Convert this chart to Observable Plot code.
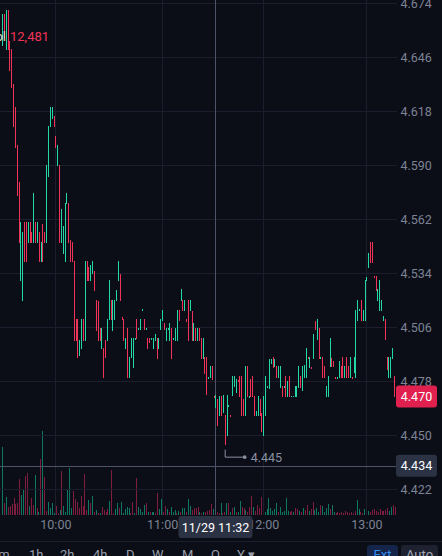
<!DOCTYPE html>
<html><head><meta charset="utf-8">
<script src="https://cdn.jsdelivr.net/npm/d3@7"></script>
<script src="https://cdn.jsdelivr.net/npm/@observablehq/plot@0.6"></script>
<style>
html,body{margin:0;padding:0;background:#0b0e17;}
#wrap{position:relative;width:442px;height:556px;overflow:hidden;background:#0b0e17;font-family:Roboto,"Noto Sans",sans-serif;}
#vol,#price{position:absolute;left:0;top:0;}
.tb{position:absolute;top:547px;font-size:13px;line-height:16px;color:#9a9eab;white-space:nowrap;}
.btn{position:absolute;top:545px;height:20px;border-radius:3px;font-size:13px;line-height:20px;text-align:center;}
#sep{position:absolute;left:0;top:541px;width:442px;height:1px;background:#1b1f2d;}
</style></head><body>
<div id="wrap"><div id="vol"></div><div id="price"></div><div id="sep"></div><div id="toolbar"></div></div>
<script>
// ---- candle data (open / close per minute bar) ----
const opens = [4.652,4.668,4.650,4.670,4.654,4.650,4.632,4.620,4.600,4.581,
4.530,4.520,4.560,4.560,4.550,4.560,4.555,4.550,4.560,4.550,
4.555,4.540,4.559,4.555,4.550,4.584,4.610,4.614,4.615,4.605,
4.590,4.590,4.550,4.544,4.540,4.570,4.570,4.551,4.550,4.540,
4.510,4.510,4.491,4.495,4.510,4.499,4.540,4.537,4.530,4.534,
4.535,4.520,4.519,4.505,4.495,4.495,4.499,4.499,4.510,4.520,
4.504,4.510,4.520,4.530,4.533,4.511,4.510,4.495,4.505,4.480,
4.490,4.485,4.4995,4.510,4.5045,4.5045,4.5145,4.510,4.5045,4.500,
4.500,4.4995,4.4946,4.499,4.500,4.4946,4.5045,4.5096,4.5076,4.499,
4.5045,4.499,4.505,4.4995,4.499,4.499,4.5148,4.5195,4.520,4.5148,
4.510,4.520,4.5143,4.5138,4.499,4.505,4.499,4.505,4.4998,4.4895,
4.490,4.490,4.4794,4.4796,4.4853,4.4700,4.4645,4.4682,4.4599,4.4698,
4.4615,4.4599,4.4495,4.4649,4.4601,4.4703,4.4749,4.4718,4.4782,4.4801,
4.4801,4.4682,4.4599,4.4853,4.4696,4.4788,4.4801,4.4698,4.4599,4.4599,
4.4682,4.4609,4.4495,4.4599,4.4747,4.4743,4.4873,4.4900,4.4853,4.4853,
4.4796,4.4745,4.4749,4.4747,4.4801,4.4698,4.4801,4.4698,4.4698,4.4698,
4.4698,4.4745,4.4801,4.4733,4.4796,4.4796,4.4900,4.4848,4.4850,4.4895,
4.5091,4.4993,4.505,4.4895,4.4900,4.4853,4.4698,4.4698,4.4853,4.4895,
4.4879,4.4798,4.4794,4.4796,4.4853,4.4900,4.4796,4.4900,4.4853,4.4796,
4.4798,4.4822,4.4796,4.5096,4.5146,4.5200,4.5096,4.5096,4.5299,4.5371,
4.5500,4.5500,4.5322,4.5320,4.5195,4.5148,4.5143,4.5096,4.5101,4.4900,
4.4796,4.4796,4.4895,4.4801];
const closes = [4.668,4.656,4.670,4.650,4.639,4.630,4.610,4.599,4.574,4.550,
4.560,4.555,4.540,4.540,4.560,4.550,4.550,4.575,4.550,4.560,
4.540,4.550,4.540,4.550,4.590,4.610,4.620,4.620,4.610,4.599,
4.600,4.550,4.567,4.558,4.570,4.575,4.550,4.540,4.540,4.499,
4.499,4.490,4.499,4.510,4.499,4.540,4.530,4.530,4.538,4.540,
4.525,4.504,4.499,4.499,4.505,4.480,4.490,4.510,4.530,4.510,
4.520,4.520,4.525,4.540,4.520,4.510,4.499,4.500,4.480,4.490,
4.500,4.500,4.500,4.500,4.505,4.510,4.515,4.5045,4.505,4.4946,
4.498,4.500,4.500,4.502,4.4895,4.500,4.510,4.5148,4.5045,4.505,
4.505,4.5076,4.4895,4.500,4.505,4.5148,4.5096,4.5252,4.5148,4.520,
4.5086,4.499,4.520,4.499,4.5076,4.499,4.505,4.499,4.4895,4.4998,
4.4817,4.4708,4.4798,4.4853,4.4786,4.4696,4.4703,4.4547,4.4698,4.4599,
4.4703,4.445,4.4703,4.4653,4.4597,4.4801,4.4801,4.4790,4.4778,4.4698,
4.4599,4.4599,4.4853,4.4698,4.4700,4.4698,4.4698,4.4599,4.4622,4.4698,
4.4599,4.4516,4.4698,4.4801,4.4751,4.4889,4.4889,4.4848,4.4890,4.4796,
4.4853,4.4853,4.4698,4.4751,4.4698,4.4780,4.4698,4.4702,4.4702,4.4749,
4.4749,4.4853,4.4745,4.4853,4.4858,4.4951,4.4896,4.4900,4.4846,4.5019,
4.5045,4.5101,4.4895,4.4900,4.4796,4.4796,4.4749,4.4801,4.4998,4.4853,
4.4853,4.4794,4.4798,4.4879,4.4796,4.4796,4.4853,4.4796,4.4796,4.4900,
4.4794,4.4900,4.5148,4.5200,4.5150,4.5096,4.5148,4.5299,4.5315,4.5443,
4.5397,4.5397,4.5318,4.5247,4.5252,4.5299,4.5200,4.5112,4.4993,4.4838,
4.4900,4.4900,4.4951,4.4700];

// ---- volume bars (thousands) and their direction ----
const volumes = [102,18,27,12,14,17,26,17,18,54, 30,38,59,63,14,26,15,60,11,5,
84,126,57,6,20,11,18,3,14,3, 8,66,14,5,38,71,11,36,24,20,
11,29,14,62,8,23,18,29,5,8, 3,3,12,8,5,9,21,68,3,9,
18,11,20,3,9,12,11,3,20,3, 56,12,9,5,15,18,5,5,5,5,
3,33,9,24,5,14,9,5,12,5, 8,3,6,5,11,11,5,24,14,8,
11,11,12,5,3,5,5,6,8,17, 9,15,5,3,18,3,5,18,
18,5,11,12,5,5,21,12,11,8, 5,12,29,12,6,15,11,27,6,5,
9,26,11,6,9,18,5,12,5,6, 26,6,5,6,5,11,9,6,5,11,
8,15,6,9,20,8,11,5,15,14, 5,11,17,9,15,5,3,5,3,5,
3,6,5,3,5,3,6,23,9,5, 3,9,18,6,5,8,9,6,5,9,
6,6,8,11,6,12,15,12.481];
const volumeDir = ["u","d","u","d","d","d","d","d","d","d", "u","u","d","d","u","d","d","u","d","u",
"d","u","d","d","u","u","u","u","d","d", "u","d","u","u","u","u","u","d","d","d",
"d","d","d","d","d","u","d","u","d","u", "d","u","d","d","d","d","u","d","d","u",
"u","d","u","u","u","u","u","d","d","u", "d","u","u","u","u","d","u","d","u","u",
"d","d","u","u","d","d","u","d","u","u", "u","d","u","d","u","u","d","u","u","d",
"d","d","d","u","d","u","d","d","d","d", "u","u","d","d","u","d","d","u",
"d","u","d","u","d","u","u","d","d","u", "d","d","d","u","d","d","d","d","d","u",
"u","u","u","u","u","u","d","u","u","u", "u","u","d","d","u","d","d","u","d","u",
"d","d","u","d","d","u","u","u","d","u", "u","u","u","d","u","u","d","d","d","d",
"d","d","d","d","d","d","d","u","u","d", "d","u","u","u","d","d","d","d","d","d",
"d","d","d","d","u","u","d"];

// ---- axis ticks / labels ----
const priceTicks = [4.422,4.450,4.478,4.506,4.534,4.562,4.590,4.618,4.646,4.674];
const hourTicks = [29,87,142,198];
const hourLabels = ["10:00","11:00","12:00","13:00"];
const crossIndex = 116;
const crossLabel = "11/29 11:32";
const crossPrice = 4.434;
const toolbarItems = [["1m",-9],["1h",29],["2h",60],["4h",93],["D",126],["W",152],["M",182],["Q",211],["Y",237],["▾",248]];

const UP="#24d8a6", DOWN="#f23358", VUP="#0f7661", VDOWN="#7e1d3d";
const GRID="#1b1f2d", CROSS="#4d5368", AXIS="#7d8394", SLATE="#2b3244", BADGE_RED="#e0214f";
const W=442, H=541;

const candles = opens.map((o,i)=>({i, open:o, close:closes[i], up: closes[i] >= o}));
const n = candles.length;
while (volumeDir.length < volumes.length) volumeDir.push("d");
const vols = volumes.map((v,i)=>({i, v, up: volumeDir[i]==="u"}));
const last = candles[n-1];
const lowBar = d3.least(candles, d=>Math.min(d.open,d.close));
const lowIdx = lowBar.i, lowVal = Math.min(lowBar.open, lowBar.close);
const f3 = d3.format(".3f");

function badge(value, label, fill, color) {
  return (index, scales, values, dims) => {
    const y = scales.y(value);
    const g = d3.create("svg:g");
    g.append("rect").attr("x", 396).attr("y", y-11).attr("width", 41).attr("height", 22).attr("rx", 3).attr("fill", fill);
    g.append("text").attr("x", 416.5).attr("y", y).attr("dy","0.36em").attr("text-anchor","middle")
      .attr("fill", color).attr("font-size", 12.5).text(label);
    return g.node();
  };
}

const vol = Plot.plot({
  width: W, height: H, marginTop: 0, marginLeft: 0, marginRight: 45, marginBottom: 26,
  style: {background: "transparent"},
  x: {type: "linear", domain: [0, vols.length-1], range: [2, 395], axis: null},
  y: {domain: [0, 150], range: [515, 415], axis: null},
  color: {type: "identity"},
  marks: [
    Plot.ruleX(vols, {x: "i", y1: 0, y2: "v", stroke: d => d.up ? VUP : VDOWN, strokeWidth: 1, shapeRendering: "crispEdges"})
  ]
});
document.getElementById("vol").append(vol);

const price = Plot.plot({
  width: W, height: H, marginTop: 0, marginLeft: 0, marginRight: 45, marginBottom: 26,
  style: {background: "transparent", fontFamily: "Roboto, 'Noto Sans', sans-serif", fontSize: "12.5px", overflow: "visible"},
  x: {type: "linear", domain: [0, n-1], range: [2, 394], axis: null},
  y: {domain: [4.422, 4.674], range: [489, 3], axis: null},
  color: {type: "identity"},
  marks: [
    Plot.ruleY(priceTicks, {stroke: GRID, strokeWidth: 1, shapeRendering: "crispEdges"}),
    Plot.ruleX(hourTicks, {stroke: GRID, strokeWidth: 1, shapeRendering: "crispEdges"}),
    Plot.ruleX([crossIndex], {stroke: CROSS, strokeWidth: 1, shapeRendering: "crispEdges"}),
    Plot.ruleY([crossPrice], {stroke: CROSS, strokeWidth: 1, shapeRendering: "crispEdges"}),
    Plot.ruleX(candles, {x: "i", y1: "open", y2: "close", stroke: d => d.up ? UP : DOWN,
      strokeWidth: 1, strokeLinecap: "square", shapeRendering: "crispEdges"}),
    Plot.text(priceTicks, {y: d => d, text: d => f3(d), frameAnchor: "right", textAnchor: "start", dx: 3, fill: AXIS, fontSize: 12.5}),
    Plot.text(hourTicks, {x: d => d, text: (d, i) => hourLabels[i], frameAnchor: "bottom", dy: 13, fill: AXIS, fontSize: 12.5}),
    // low marker
    (index, scales) => {
      const px = scales.x(lowIdx), py = scales.y(lowVal);
      const g = d3.create("svg:g");
      g.append("path").attr("d", `M${px+0.5},${py+5}V${py+12.5}H${px+20}`).attr("stroke", "#8a90a2").attr("fill", "none").attr("stroke-width", 1);
      g.append("circle").attr("cx", px+20).attr("cy", py+12.5).attr("r", 1.8).attr("fill", "#8a90a2");
      g.append("text").attr("x", px+26).attr("y", py+12.5).attr("dy", "0.36em").attr("text-anchor", "start")
        .attr("fill", "#8a90a2").attr("font-size", 12.5).text(f3(lowVal));
      return g.node();
    },
    badge(last.close, f3(last.close), BADGE_RED, "#ffffff"),
    badge(crossPrice, f3(crossPrice), SLATE, "#ffffff"),
    // crosshair time label
    (index, scales) => {
      const px = scales.x(crossIndex);
      const g = d3.create("svg:g");
      g.append("rect").attr("x", px-37).attr("y", 516).attr("width", 74).attr("height", 22).attr("rx", 3).attr("fill", SLATE);
      g.append("text").attr("x", px).attr("y", 527).attr("dy", "0.36em").attr("text-anchor", "middle").attr("fill", "#ffffff").attr("font-size", 12.5).text(crossLabel);
      return g.node();
    },
    // volume legend
    () => {
      const g = d3.create("svg:g");
      g.append("text").attr("x", 6).attr("y", 36).attr("dy", "0.36em").attr("text-anchor", "end").attr("fill", "#e2d6bd").attr("font-size", 13).text("Vol");
      g.append("text").attr("x", 10).attr("y", 36).attr("dy", "0.36em").attr("text-anchor", "start").attr("fill", DOWN).attr("font-size", 13)
        .text(d3.format(",")(Math.round(volumes[volumes.length-1]*1000)));
      return g.node();
    }
  ]
});
document.getElementById("price").append(price);

const tb = document.getElementById("toolbar");
for (const [t, x] of toolbarItems) {
  const s = document.createElement("span");
  s.className = "tb"; s.textContent = t; s.style.left = x + "px";
  tb.append(s);
}
const ext = document.createElement("div");
ext.className = "btn"; ext.textContent = "Ext";
Object.assign(ext.style, {left: "367px", width: "31px", background: "#15254a", color: "#2f8cf5"});
const auto = document.createElement("div");
auto.className = "btn"; auto.textContent = "Auto";
Object.assign(auto.style, {left: "401px", width: "37px", background: "#1e2230", color: "#a3a7b3"});
tb.append(ext, auto);
</script>
</body></html>
